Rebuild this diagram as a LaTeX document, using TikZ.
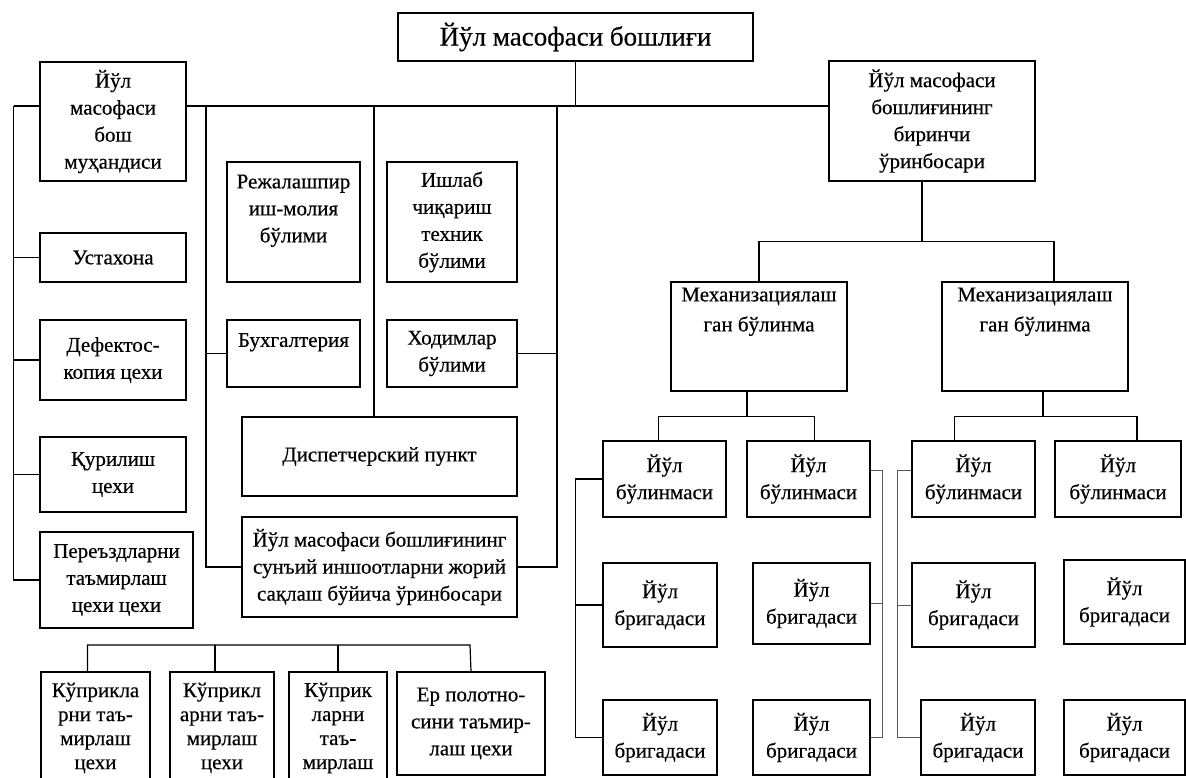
\documentclass[tikz,border=0pt]{standalone}
\usepackage{fontspec}
\setmainfont{Liberation Serif}[FakeBold=0.4]
\usetikzlibrary{calc}
\tikzset{
    block/.style = {draw, rectangle, fill=white, line width=1.2pt,
        inner sep=1pt, align=center, font=\fontsize{21}{27}\selectfont},
    boxsize/.style 2 args = {minimum width=#1pt, minimum height=#2pt},
    line/.style = {draw, line width=1.2pt},
    thinline/.style = {draw, line width=0.8pt, black!65}
}

\begin{document}
\begin{tikzpicture}[x=1pt, y=-1pt]
        \useasboundingbox (0,0) rectangle (1186,778);
        \clip (0,0) rectangle (1186,778);
        % head and first level
        \node [block, boxsize={355}{48}, font=\fontsize{27}{32}\selectfont] (head) at (575.5,37) {Йўл масофаси бошлиғи};
        \node [block, boxsize={146}{119}] (engineer) at (113,121.5) {Йўл\\ масофаси\\ бош\\ муҳандиси};
        \node [block, boxsize={206}{120}] (deputy) at (932,121) {Йўл масофаси\\ бошлиғининг\\ биринчи\\ ўринбосари};
        \node [block, boxsize={146}{49}] (workshop) at (113,257.5) {Устахона};
        \node [block, boxsize={146}{80}] (defect) at (113,360) {Дефектос-\\ копия цехи};
        \node [block, boxsize={146}{75}] (build) at (113,474.5) {Қурилиш\\ цехи};
        \node [block, boxsize={153}{96}] (crossing) at (116.5,580) {Переъздларни\\ таъмирлаш\\ цехи цехи};
        \node [block, boxsize={133}{120}] (plan) at (293.5,222) {Режалашпир\\ иш-молия\\ бўлими\\ ~};
        \node [block, boxsize={130}{120}] (prod) at (452,222) {Ишлаб\\ чиқариш\\ техник\\ бўлими};
        \node [block, boxsize={133}{67}] (account) at (293.5,353.5) {Бухгалтерия\\ ~};
        \node [block, boxsize={130}{67}] (staff) at (452,353.5) {Ходимлар\\ бўлими};
        \node [block, boxsize={275}{79}] (dispatch) at (379.5,456.5) {Диспетчерский пункт};
        \node [block, boxsize={275}{100}] (struct) at (379.5,567) {Йўл масофаси бошлиғининг\\ сунъий иншоотларни жорий\\ сақлаш бўйича ўринбосари};
        % bridge and roadbed shops
        \node [block, boxsize={109}{112}, font=\fontsize{21}{24}\selectfont] (repair1) at (95.5,728) {Кўприкла\\ рни таъ-\\ мирлаш\\ цехи};
        \node [block, boxsize={104}{112}, font=\fontsize{21}{24}\selectfont] (repair2) at (222,728) {Кўприкл\\ арни таъ-\\ мирлаш\\ цехи};
        \node [block, boxsize={98}{112}, font=\fontsize{21}{24}\selectfont] (repair3) at (338,728) {Кўприк\\ ларни\\ таъ-\\ мирлаш};
        \node [block, boxsize={148}{103}] (repair4) at (471,723.5) {Ер полотно-\\ сини таъмир-\\ лаш цехи};
        % mechanized units
        \node [block, boxsize={176}{109}] (mech1) at (759,336.5) {Механизациялаш\\[3pt] ган бўлинма\\ ~\\ ~};
        \node [block, boxsize={186}{109}] (mech2) at (1035,336.5) {Механизациялаш\\[3pt] ган бўлинма\\ ~\\ ~};
        \node [block, boxsize={123}{76}] (unit1) at (664.5,479) {Йўл\\ бўлинмаси};
        \node [block, boxsize={123}{76}] (unit2) at (808.5,479) {Йўл\\ бўлинмаси};
        \node [block, boxsize={123}{76}] (unit3) at (973.5,479) {Йўл\\ бўлинмаси};
        \node [block, boxsize={126}{76}] (unit4) at (1118,479) {Йўл\\ бўлинмаси};
        \node [block, boxsize={114}{84}] (team21) at (660,605) {Йўл\\ бригадаси};
        \node [block, boxsize={117}{81}] (team22) at (811.5,603.5) {Йўл\\ бригадаси};
        \node [block, boxsize={123}{84}] (team23) at (973.5,605) {Йўл\\ бригадаси};
        \node [block, boxsize={121}{84}] (team24) at (1124.5,602) {Йўл\\ бригадаси};
        \node [block, boxsize={114}{75}] (team31) at (660,737.5) {Йўл\\ бригадаси};
        \node [block, boxsize={117}{75}] (team32) at (811.5,737.5) {Йўл\\ бригадаси};
        \node [block, boxsize={114}{75}] (team33) at (978,737.5) {Йўл\\ бригадаси};
        \node [block, boxsize={121}{75}] (team34) at (1124.5,737.5) {Йўл\\ бригадаси};
        % main bus
        \coordinate (busL) at (13.5,106);
        \coordinate (busA) at (206,106);
        \coordinate (busB) at (374,106);
        \coordinate (busC) at (557,106);
        \draw [line] (head.south) -- (head.south |- busL);
        \draw [line] (busL) -- (busL -| engineer.west);
        \draw [line] (busL -| engineer.east) -- (busL -| deputy.west);
        \draw [line] (busL) |- (workshop.west);
        \draw [line] (busL) |- (defect.west);
        \draw [line] (busL) |- (build.west);
        \draw [line] (busL) |- (crossing.west);
        \draw [line] (busA) |- (struct.west);
        \draw [line] (busA |- account.west) -- (account.west);
        \draw [line] (busB) -- (busB |- dispatch.north);
        \draw [line] (busC) |- (struct.east);
        \draw [line] (staff.east) -- (busC |- staff.east);
        % shops bus
        \coordinate (lowbus) at (470,645);
        \draw [line] ([xshift=-8pt]repair1.north) |- (lowbus) -- (repair4.north);
        \draw [line] ([xshift=-7pt]repair2.north) -- ([xshift=-7pt]repair2.north |- lowbus);
        \draw [line] (repair3.north) -- (repair3.north |- lowbus);
        % right branch
        \draw [line] ([xshift=-10pt]deputy.south) -- ++(0,60) coordinate (rhub);
        \draw [line] (mech1.north) |- (rhub) -| ([xshift=19pt]mech2.north);
        \draw [line] ([xshift=-12pt]mech1.south) -- ++(0,25) coordinate (m1hub);
        \draw [line] ([xshift=-6pt]unit1.north) |- (m1hub) -| ([xshift=6pt]unit2.north);
        \draw [line] ([xshift=8pt]mech2.south) -- ++(0,25) coordinate (m2hub);
        \draw [line] ([xshift=-19pt]unit3.north) |- (m2hub) -| ([xshift=19pt]unit4.north);
        \draw [line] (unit1.west) -- ++(-27,0) coordinate (side1) |- (team31.west);
        \draw [line] (team21.west) -- (team21.west -| side1);
        \draw [thinline] ([yshift=9pt]unit2.east) -- ++(12,0) coordinate (side2) |- (team32.east);
        \draw [thinline] (team22.east) -- (team22.east -| side2);
        \draw [thinline] ([yshift=9pt]unit3.west) -- ++(-14,0) coordinate (side3) |- (team33.west);
        \draw [thinline] (team23.west) -- (team23.west -| side3);
\end{tikzpicture}
\end{document}
